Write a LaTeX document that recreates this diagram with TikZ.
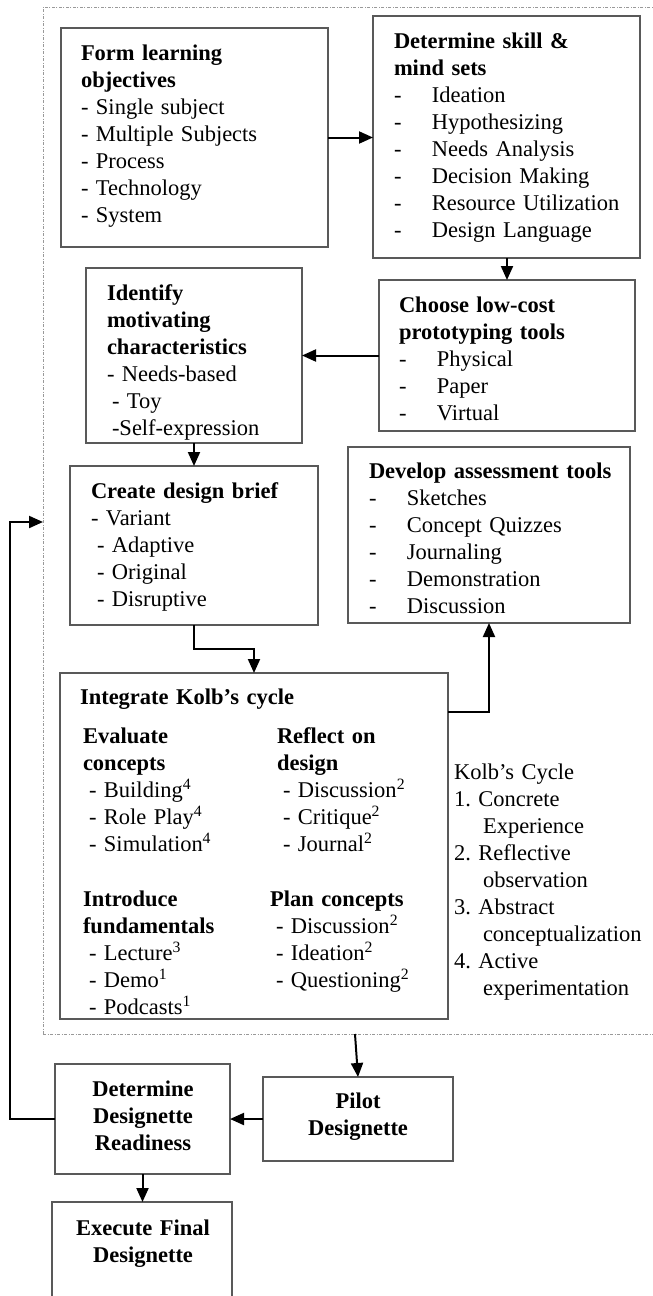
\documentclass[tikz,border=0pt]{standalone}
\usepackage{fontspec}
\setmainfont{Liberation Serif}
\usetikzlibrary{arrows.meta,calc}
\frenchspacing

% dash followed by a tab stop, as in the item lists
\newcommand{\tabdash}{\makebox[38pt][l]{-}}

\tikzset{
  box/.style={draw=black!65, line width=1.1pt, inner sep=0pt, outer sep=0pt, anchor=north west},
  txt/.style={inner sep=0pt, outer sep=0pt, anchor=north west, align=left, text width=320pt,
              font=\fontsize{22.5}{27}\selectfont},
  ctxt/.style={inner sep=0pt, outer sep=0pt, anchor=north, align=center, text width=220pt,
              font=\fontsize{22.5}{27}\selectfont\bfseries},
  arr/.style={draw=black, line width=2pt, -{Triangle[length=14pt,width=12pt]}},
  framed/.style={draw=black!40, line width=0.9pt, dash pattern=on 3pt off 1.5pt on 1pt off 1.5pt,
                 inner sep=0pt, outer sep=0pt, anchor=north west}
}

\begin{document}
\begin{tikzpicture}[x=1pt,y=-1pt]
\useasboundingbox (0,0) rectangle (653,1296);

% dotted frame around the design stage
\node[framed, minimum width=700pt, minimum height=1027pt] (frame) at (43,7) {};

% boxes
\node[box, minimum width=267pt, minimum height=219pt] (form) at (61,28) {};
\node[box, minimum width=267pt, minimum height=242pt] (det) at (373,16) {};
\node[box, minimum width=216pt, minimum height=175pt] (ident) at (86,268) {};
\node[box, minimum width=256pt, minimum height=151pt] (choose) at (379,280) {};
\node[box, minimum width=248pt, minimum height=159pt] (create) at (70,466) {};
\node[box, minimum width=282pt, minimum height=176pt] (develop) at (348,447) {};
\node[box, minimum width=388pt, minimum height=346pt] (integ) at (60,673) {};
\node[box, minimum width=175pt, minimum height=110pt] (ready) at (55,1064) {};
\node[box, minimum width=190pt, minimum height=84pt] (pilot) at (263,1077) {};
\node[box, minimum width=180pt, minimum height=130pt] (exec) at (52,1202) {};

% texts
\node[txt] (formtext) at (81,41.1) {\strut\textbf{Form learning}\\\textbf{objectives}\\- Single subject\\- Multiple Subjects\\- Process\\- Technology\\- System};
\node[txt] (dettext) at (394,29.1) {\strut\textbf{Determine skill \&}\\\textbf{mind sets}\\\tabdash Ideation\\\tabdash Hypothesizing\\\tabdash Needs Analysis\\\tabdash Decision Making\\\tabdash Resource Utilization\\\tabdash Design Language};
\node[txt] (identtext) at (107,281.1) {\strut\textbf{Identify}\\\textbf{motivating}\\\textbf{characteristics}\\- Needs-based\\\hspace*{5pt}- Toy\\\hspace*{5pt}-Self-expression};
\node[txt] (choosetext) at (399,293.1) {\strut\textbf{Choose low-cost}\\\textbf{prototyping tools}\\\tabdash Physical\\\tabdash Paper\\\tabdash Virtual};
\node[txt] (createtext) at (91,479.1) {\strut\textbf{Create design brief}\\- Variant\\\hspace*{6pt}- Adaptive\\\hspace*{6pt}- Original\\\hspace*{6pt}- Disruptive};
\node[txt] (developtext) at (369,459.1) {\strut\textbf{Develop assessment tools}\\\tabdash Sketches\\\tabdash Concept Quizzes\\\tabdash Journaling\\\tabdash Demonstration\\\tabdash Discussion};

\node[txt] (integtitle) at (80,685.1) {\strut\textbf{Integrate Kolb’s cycle}};
\node[txt, text width=180pt] (evaltext) at (83,724.1) {\strut\textbf{Evaluate}\\\textbf{concepts}\\\hspace*{6pt}- Building\textsuperscript{4}\\\hspace*{6pt}- Role Play\textsuperscript{4}\\\hspace*{6pt}- Simulation\textsuperscript{4}};
\node[txt, text width=170pt] (reflecttext) at (277,724.1) {\strut\textbf{Reflect on}\\\textbf{design}\\\hspace*{6pt}- Discussion\textsuperscript{2}\\\hspace*{6pt}- Critique\textsuperscript{2}\\\hspace*{6pt}- Journal\textsuperscript{2}};
\node[txt, text width=180pt] (introtext) at (83,887.1) {\strut\textbf{Introduce}\\\textbf{fundamentals}\\\hspace*{6pt}- Lecture\textsuperscript{3}\\\hspace*{6pt}- Demo\textsuperscript{1}\\\hspace*{6pt}- Podcasts\textsuperscript{1}};
\node[txt, text width=170pt] (plantext) at (270,887.1) {\strut\textbf{Plan concepts}\\\hspace*{6pt}- Discussion\textsuperscript{2}\\\hspace*{6pt}- Ideation\textsuperscript{2}\\\hspace*{6pt}- Questioning\textsuperscript{2}};

\node[txt, text width=200pt] (kolbtext) at (454,760.1) {\strut Kolb’s Cycle\\1. Concrete\\\hspace*{29pt}Experience\\2. Reflective\\\hspace*{29pt}observation\\3. Abstract\\\hspace*{29pt}conceptualization\\4. Active\\\hspace*{29pt}experimentation};

\node[ctxt] (readytext) at (143,1077.1) {\strut Determine\\Designette\\Readiness};
\node[ctxt] (pilottext) at (358,1089.1) {\strut Pilot\\Designette};
\node[ctxt] (exectext) at (143,1216.1) {\strut Execute Final\\Designette};

% connector end points on the frame
\coordinate (framedrop) at (355,1034);
\coordinate (framein) at (43,522);
\coordinate (loopcorner) at (10,522);

% connectors
\draw[arr] (form.east) -- (form.east -| det.west);
\draw[arr] (det.south -| choose.north) -- (choose.north);
\draw[arr] (choose.west) -- (choose.west -| ident.east);
\draw[arr] (ident.south) -- (create.north);
\draw[arr] (create.south) -- ++(0,24) -| (integ.north);
\draw[arr] ([yshift=-39pt]integ.north east) -| (develop.south);
\draw[arr] (framedrop) -- (pilot.north);
\draw[arr] (pilot.west) -- (pilot.west -| ready.east);
\draw[arr] (ready.south) -- (ready.south |- exec.north);
\draw[arr] (ready.west) -| (loopcorner) -- (framein);
\end{tikzpicture}
\end{document}
